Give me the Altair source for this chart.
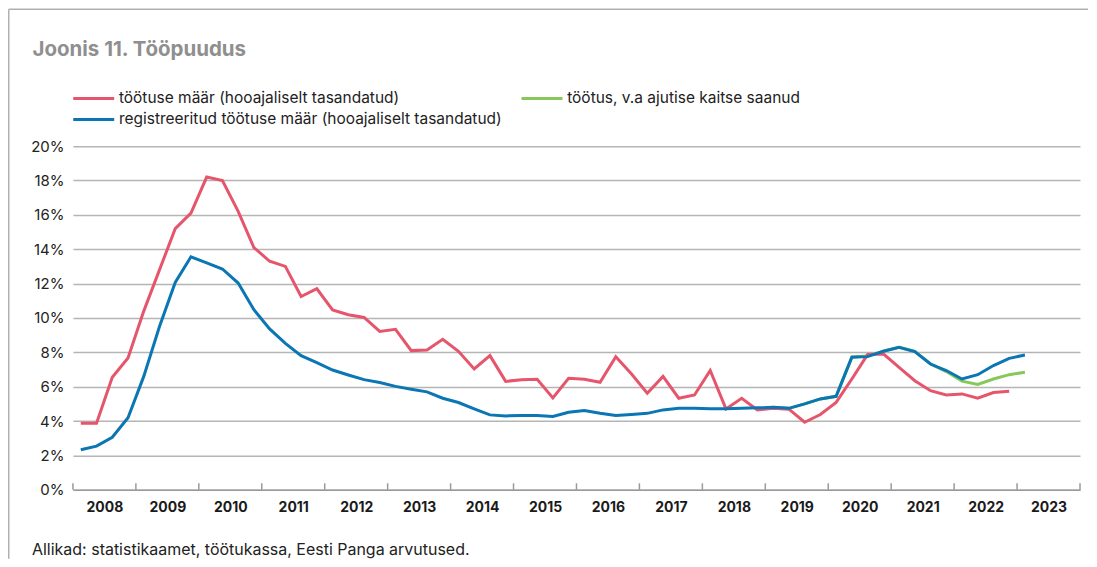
import altair as alt
import pandas as pd

# ---- data ----
years = list(range(2008, 2024))
quarters = [f"{y}Q{q}" for y in range(2008, 2023) for q in range(1, 5)] + ["2023Q1"]

red_values = [
    3.87, 3.87, 6.55, 7.67,
    10.4, 12.8, 15.2, 16.1,
    18.2, 18.0, 16.2, 14.1,
    13.3, 13.0, 11.25, 11.7,
    10.47, 10.19, 10.03, 9.22,
    9.34, 8.1, 8.14, 8.76,
    8.06, 7.03, 7.81, 6.31,
    6.41, 6.43, 5.35, 6.49,
    6.43, 6.26, 7.75, 6.74,
    5.62, 6.6, 5.33, 5.52,
    6.94, 4.71, 5.33, 4.65,
    4.74, 4.69, 3.93, 4.38,
    5.09, 6.45, 7.87, 7.91,
    7.13, 6.35, 5.77, 5.52,
    5.58, 5.33, 5.66, 5.73,
]
blue_values = [
    2.33, 2.54, 3.06, 4.19,
    6.6, 9.5, 12.07, 13.56,
    13.2, 12.85, 12.03, 10.48,
    9.36, 8.52, 7.81, 7.40,
    6.97, 6.68, 6.41, 6.24,
    6.02, 5.85, 5.70, 5.33,
    5.08, 4.71, 4.36, 4.30,
    4.32, 4.32, 4.27, 4.51,
    4.61, 4.45, 4.32, 4.38,
    4.45, 4.65, 4.74, 4.74,
    4.71, 4.71, 4.74, 4.77,
    4.80, 4.74, 5.0, 5.29,
    5.44, 7.71, 7.75, 8.06,
    8.29, 8.04, 7.32, 6.94,
    6.45, 6.70, 7.23, 7.65,
    7.85,
]
green_quarters = quarters[44:]  # 2019Q1 .. 2023Q1
green_values = [
    4.80, 4.74, 5.0, 5.29,
    5.44, 7.73, 7.78, 8.06,
    8.29, 8.06, 7.32, 6.88,
    6.32, 6.13, 6.45, 6.70,
    6.84,
]

name_red = "töötuse määr (hooajaliselt tasandatud)"
name_green = "töötus, v.a ajutise kaitse saanud"
name_blue = "registreeritud töötuse määr (hooajaliselt tasandatud)"
# legend fills column by column: [col1 row1, col1 row2, col2 row1]
legend_order = [name_red, name_blue, name_green]
legend_colors = ["#E5566C", "#0A76B4", "#86C95A"]


def qpos(q):
    y, n = q.split("Q")
    return int(y) + (int(n) - 0.5) / 4


def frame(qs, vals, name):
    return pd.DataFrame({"t": [qpos(q) for q in qs], "v": vals, "series": name})


df_red = frame(quarters[:len(red_values)], red_values, name_red)
df_green = frame(green_quarters, green_values, name_green)
df_blue = frame(quarters, blue_values, name_blue)

W, H = 1008, 344
FONT = "Inter"

xscale = alt.Scale(domain=[2008, 2024], nice=False, zero=False)
yscale = alt.Scale(domain=[0, 20], nice=False)

color = alt.Color(
    "series:N",
    scale=alt.Scale(domain=legend_order, range=legend_colors),
    legend=alt.Legend(
        title=None,
        orient="none",
        legendX=-1.5,
        legendY=-58,
        columns=2,
        columnPadding=11.7,
        rowPadding=2.3,
        padding=0,
        symbolType="M-1,0H4",
        symbolSize=269,
        symbolStrokeWidth=3,
        labelOffset=27.5,
        labelFontSize=15.5,
        labelFont=FONT,
        labelColor="#222222",
        labelLimit=600,
    ),
)

xaxis = alt.Axis(
    values=[y + 0.5 for y in years],
    labelExpr="floor(datum.value)",
    title=None,
    grid=False,
    ticks=False,
    domainColor="#9a9a9a",
    domainWidth=1.5,
    labelFont=FONT,
    labelFontWeight="bold",
    labelFontSize=14,
    labelColor="#1a1a1a",
    labelPadding=11,
    labelFlush=False,
    labelOverlap=False,
)
yaxis = alt.Axis(
    values=list(range(0, 21, 2)),
    labelExpr="datum.value + '%'",
    title=None,
    domain=False,
    ticks=False,
    grid=True,
    gridColor="#b5b5b5",
    gridWidth=1.5,
    labelFont=FONT,
    labelFontSize=15,
    labelColor="#222222",
    labelPadding=9,
    labelOverlap=False,
)


def line(df):
    return alt.Chart(df).mark_line(strokeWidth=3, strokeJoin="miter").encode(
        x=alt.X("t:Q", scale=xscale, axis=xaxis),
        y=alt.Y("v:Q", scale=yscale, axis=yaxis),
        color=color,
    )


ticks_df = pd.DataFrame({"t": list(range(2008, 2025)), "y0": 0.0, "y1": 0.38})
ticks = alt.Chart(ticks_df).mark_rule(color="#9a9a9a", strokeWidth=1.5).encode(
    x=alt.X("t:Q", scale=xscale, axis=xaxis),
    y=alt.Y("y0:Q", scale=yscale, axis=yaxis),
    y2="y1:Q",
)

one = pd.DataFrame({"a": [0]})
border_left = alt.Chart(one).mark_rule(color="#b0b0b0", strokeWidth=1.5).encode(
    x=alt.value(-64.25), y=alt.value(-136.95), y2=alt.value(413)
)
border_top = alt.Chart(one).mark_rule(color="#b0b0b0", strokeWidth=1.5).encode(
    x=alt.value(-64.25), x2=alt.value(1016), y=alt.value(-136.95)
)
title = alt.Chart(one).mark_text(
    align="left", baseline="alphabetic", font=FONT, fontSize=20.5,
    fontWeight="bold", color="#8f8f8f"
).encode(x=alt.value(-40.5), y=alt.value(-90.5), text=alt.value("Joonis 11. Tööpuudus"))
source = alt.Chart(one).mark_text(
    align="left", baseline="alphabetic", font=FONT, fontSize=16, color="#222222"
).encode(
    x=alt.value(-41),
    y=alt.value(409.3),
    text=alt.value("Allikad: statistikaamet, töötukassa, Eesti Panga arvutused."),
)

chart = alt.layer(
    line(df_green), line(df_red), line(df_blue), ticks,
    border_left, border_top, title, source,
).properties(width=W, height=H, padding=0).configure(
    font=FONT
).configure_view(stroke=None)

chart.save("out.html", embed_options={"renderer": "svg", "actions": False})
